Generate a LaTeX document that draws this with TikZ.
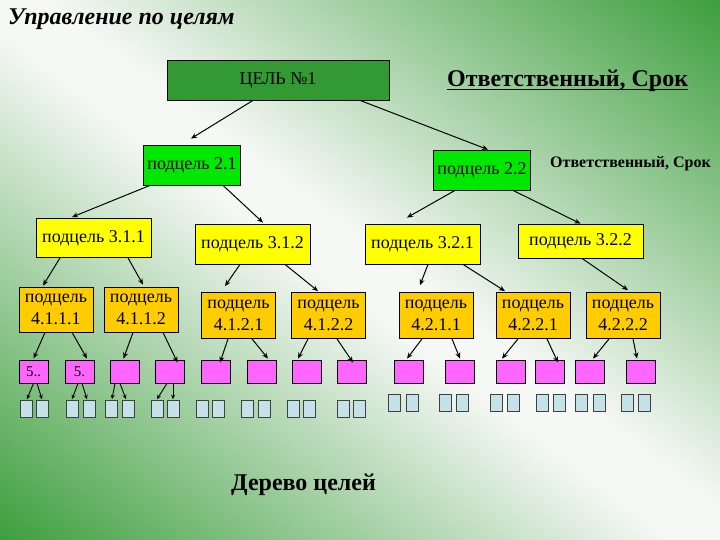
\documentclass[tikz,border=0pt]{standalone}
\usepackage{fontspec}
\setmainfont{Liberation Serif}
\usetikzlibrary{arrows.meta}

\definecolor{bggreen}{RGB}{56,156,56}
\definecolor{goalgreen}{RGB}{51,153,51}
\definecolor{subgreen}{RGB}{0,232,0}
\definecolor{subyellow}{RGB}{255,255,0}
\definecolor{subgold}{RGB}{255,204,0}
\definecolor{taskpink}{RGB}{255,102,255}
\definecolor{cellblue}{RGB}{196,226,232}
\definecolor{bgwhite}{RGB}{246,248,246}

\pgfdeclareverticalshading{bgband}{100bp}{color(0bp)=(bggreen); color(14bp)=(bggreen); color(48bp)=(bgwhite); color(52bp)=(bgwhite); color(86bp)=(bggreen); color(100bp)=(bggreen)}

\begin{document}
\begin{tikzpicture}[
        x=1pt, y=-1pt,
        box/.style={draw=black, line width=0.8pt, align=center, inner sep=1pt, font=\fontsize{18}{22}\selectfont},
        lvl1/.style={box, fill=goalgreen, minimum width=222pt, minimum height=40pt},
        lvl2/.style={box, fill=subgreen, minimum width=97pt, minimum height=40pt},
        lvl3/.style={box, fill=subyellow, minimum width=115pt, minimum height=39pt},
        lvl4/.style={box, fill=subgold, minimum width=74pt, minimum height=46pt},
        task/.style={box, fill=taskpink, minimum width=29pt, minimum height=23pt, inner sep=0pt, font=\fontsize{15}{15}\selectfont},
        cell/.style={draw=black!75, line width=0.6pt, fill=cellblue, minimum width=12pt, minimum height=17pt, inner sep=0pt},
        arr/.style={-{Stealth[length=6pt,width=5pt]}, line width=1pt, black},
        arrs/.style={-{Stealth[length=4.5pt,width=4pt]}, line width=0.9pt, black},
    ]

    %====================== ФОН ======================
    \useasboundingbox (0,0) rectangle (720,540);
    \shade[shading=bgband, shading angle=-37] (0,0) rectangle (720,540);

    %====================== ЗАГОЛОВКИ ======================
    \node[anchor=base west, inner sep=0pt, font=\fontsize{24}{26}\selectfont\bfseries\itshape] (title) at (8,25) {Управление по целям};
    \node[anchor=base west, inner sep=0pt, font=\fontsize{24}{26}\selectfont\bfseries] (resp) at (447,87) {Ответственный, Срок};
    \draw[line width=1.2pt] ([yshift=-2.5pt]resp.base west) -- ([yshift=-2.5pt]resp.base east);
    \node[anchor=base west, inner sep=0pt, font=\fontsize{16}{18}\selectfont\bfseries] (resp2) at (550,168) {Ответственный, Срок};
    \node[anchor=base west, inner sep=0pt, font=\fontsize{24}{26}\selectfont\bfseries] (tree) at (231,490) {Дерево целей};

    %====================== ЦЕЛИ ======================
    \node[lvl1] (goal) at (278,80) {ЦЕЛЬ №1};

    \node[lvl2] (g21) at (192,165) {подцель 2.1};
    \node[lvl2] (g22) at (482,170) {подцель 2.2};

    \node[lvl3] (g311) at (93.5,238) {подцель 3.1.1};
    \node[lvl3, minimum height=40pt] (g312) at (252.5,244) {подцель 3.1.2};
    \node[lvl3, minimum height=40pt] (g321) at (422.5,244) {подцель 3.2.1};
    \node[lvl3, minimum width=125pt, minimum height=34pt] (g322) at (580.5,241) {подцель 3.2.2};

    \node[lvl4, minimum height=45pt] (g4111) at (56,309.5) {подцель\\4.1.1.1};
    \node[lvl4, minimum height=45pt] (g4112) at (141,309.5) {подцель\\4.1.1.2};
    \node[lvl4] (g4121) at (238.5,315.5) {подцель\\4.1.2.1};
    \node[lvl4] (g4122) at (328.5,315.5) {подцель\\4.1.2.2};
    \node[lvl4] (g4211) at (436,315.5) {подцель\\4.2.1.1};
    \node[lvl4] (g4221) at (533,315.5) {подцель\\4.2.2.1};
    \node[lvl4] (g4222) at (623,315.5) {подцель\\4.2.2.2};

    %====================== ЗАДАЧИ ======================
    \node[task] (t1) at (33.5,371.5) {5..};
    \node[task] (t2) at (79.5,371.5) {5.};
    \foreach \x [count=\i from 3] in {124.5,169.5,215.5,261.5,306.5,351.5,408.5,459.5,510.5,549.5,589.5,640.5} {
        \node[task] (t\i) at (\x,371.5) {};
    }

    \foreach \x [count=\i] in {20,36,66,83,105,122,151,167,196,212,241,258,287,303,337,353} {
        \node[cell] (c\i) at (\x+6,409) {};
    }
    \foreach \x [count=\i from 17] in {388,406,439,456,490,507,536,553,575,593,621,638} {
        \node[cell] (c\i) at (\x+6,402.5) {};
    }

    %====================== СТРЕЛКИ ======================
    \foreach \a/\da/\b/\db/\gap in {goal/-25/g21/-1/6, goal/82/g22/6/0,
            g21/-42/g311/-21.5/1, g21/31/g312/10.5/1, g22/-27/g321/-15.5/6, g22/31/g322/0/0,
            g311/-33.5/g4111/-13/1, g311/34.5/g4112/2/2, g312/-12.5/g4121/-13.5/6, g312/32.5/g4122/-10.5/1,
            g321/5.5/g4211/-16/7, g321/40.5/g4221/-28/1, g322/1.5/g4222/5/2} {
        \draw[arr] ([xshift=\da pt]\a.south) -- ([xshift=\db pt, yshift=\gap pt]\b.north);
    }

    \foreach \a/\da/\b/\db/\gap in {g4111/-11/t1/0/1, g4111/16/t2/7.5/1, g4112/-8/t3/-1/1, g4112/22/t4/8/-3,
            g4121/-10.5/t5/4.5/-3, g4121/13.5/t6/6.5/1, g4122/-20.5/t7/-8.5/1, g4122/8.5/t8/1.5/-3,
            g4211/-14/t9/-1.5/1, g4211/16/t10/0.5/1, g4221/-15/t11/-8.5/1, g4221/14/t12/8.5/-3,
            g4222/-14/t13/3.5/1, g4222/10/t14/-3.5/1} {
        \draw[arr] ([xshift=\da pt]\a.south) -- ([xshift=\db pt, yshift=\gap pt]\b.north);
    }

    \foreach \a/\da/\b/\db in {t1/0/c1/1, t1/3.5/c2/0, t2/-1.5/c3/0, t2/2.5/c4/-2,
            t3/-9.5/c5/1, t3/-4.5/c6/-2, t4/-2.5/c7/0, t4/3.5/c8/0} {
        \draw[arrs] ([xshift=\da pt]\a.south) -- ([xshift=\db pt, yshift=1pt]\b.north);
    }

\end{tikzpicture}
\end{document}
